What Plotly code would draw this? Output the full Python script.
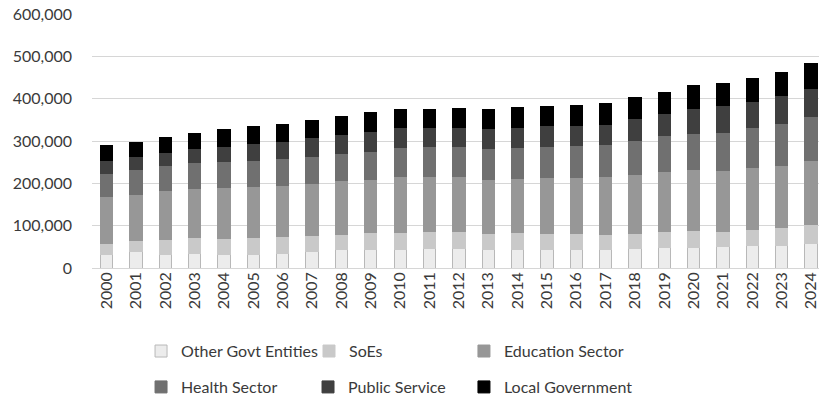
import plotly.graph_objects as go

years = [str(y) for y in range(2000, 2025)]

other_govt = [33000, 38000, 31000, 34000, 33000, 33000, 35000, 40000, 43000, 43000,
              44000, 46000, 46000, 43000, 44000, 44000, 44000, 44000, 45000, 48000,
              48000, 50000, 54000, 53000, 58000]
soes = [26000, 26000, 37000, 37000, 36000, 38000, 39000, 36000, 37000, 42000,
        41000, 40000, 40000, 39000, 40000, 38000, 38000, 36000, 37000, 38000,
        40000, 36000, 37000, 42000, 45000]
education = [111000, 110000, 114000, 117000, 121000, 121000, 120000, 124000, 126000, 123000,
             131000, 131000, 130000, 128000, 128000, 131000, 132000, 136000, 140000, 142000,
             144000, 144000, 146000, 148000, 152000]
health = [54000, 58000, 59000, 61000, 61000, 63000, 64000, 63000, 64000, 67000,
          69000, 70000, 71000, 73000, 73000, 74000, 75000, 76000, 79000, 84000,
          86000, 91000, 96000, 98000, 104000]
public_service = [31000, 31000, 32000, 33000, 37000, 40000, 42000, 45000, 45000, 47000,
                  46000, 44000, 44000, 46000, 48000, 49000, 48000, 48000, 51000, 54000,
                  59000, 63000, 61000, 66000, 64000]
local_govt = [34000, 34000, 36000, 36000, 38000, 39000, 40000, 40000, 43000, 45000,
              44000, 44000, 45000, 45000, 45000, 45000, 47000, 49000, 51000, 48000,
              53000, 51000, 53000, 56000, 59000]

# (name, values, fill, outline)
series = [
    ("Other Govt Entities", other_govt, "#ececec", "#b8b8b8"),
    ("SoEs", soes, "#c9c9c9", "#c9c9c9"),
    ("Education Sector", education, "#979797", "#979797"),
    ("Health Sector", health, "#707070", "#707070"),
    ("Public Service", public_service, "#3f3f3f", "#3f3f3f"),
    ("Local Government", local_govt, "#000000", "#000000"),
]

# legend grid: one legend per entry, two rows of three (container coordinates)
legend_slots = [
    (0.1722, 0.120), (0.3773, 0.120), (0.5665, 0.120),
    (0.1722, 0.030), (0.3761, 0.030), (0.5665, 0.030),
]

font_family = "Lato, 'Open Sans', sans-serif"
text_color = "#3a3a3a"

fig = go.Figure()
legend_layouts = {}
for i, ((name, vals, fill, edge), (lx, ly)) in enumerate(zip(series, legend_slots)):
    leg_id = "legend" if i == 0 else f"legend{i + 1}"
    fig.add_trace(go.Bar(
        x=years, y=vals, name=name, legend=leg_id, showlegend=True,
        marker=dict(color=fill, line=dict(color=edge, width=1)),
    ))
    legend_layouts[leg_id] = dict(
        orientation="h",
        xref="container", yref="container",
        x=lx, xanchor="left",
        y=ly, yanchor="middle",
        font=dict(size=16, color=text_color),
        itemclick=False,
        bgcolor="rgba(0,0,0,0)",
    )

fig.update_layout(
    showlegend=True,
    barmode="stack",
    bargap=0.58,
    width=819, height=399,
    margin=dict(l=92, r=0, t=14, b=131),
    plot_bgcolor="white", paper_bgcolor="white",
    font=dict(family=font_family, size=16, color=text_color),
    xaxis=dict(
        type="category",
        range=[-0.5, 24.27],
        tickangle=-90,
        tickfont=dict(size=16),
        showgrid=False,
        showline=False,
        ticks="",
    ),
    yaxis=dict(
        range=[0, 600000],
        dtick=100000,
        tickformat=",",
        showgrid=True,
        gridcolor="#d6d6d6",
        gridwidth=1,
        zeroline=True,
        zerolinecolor="#d6d6d6",
        zerolinewidth=1,
        ticks="",
        ticklabelstandoff=19,
        tickfont=dict(size=16),
    ),
    **legend_layouts,
)

fig.write_html("out.html")
